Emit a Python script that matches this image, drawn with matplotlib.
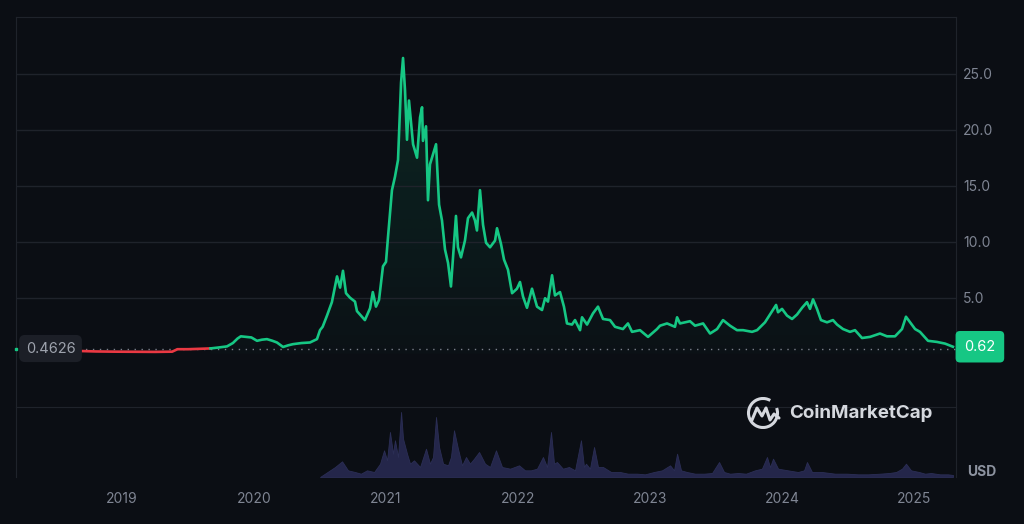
import numpy as np
import matplotlib
matplotlib.use("Agg")
import matplotlib.pyplot as plt
from matplotlib.patches import Arc

plt.rcParams['font.family'] = ['Inter', 'DejaVu Sans']

# price history (decimal year, USD)
dates = [2018.68, 2018.80, 2018.95, 2019.10, 2019.25, 2019.38, 2019.42, 2019.50, 2019.60, 2019.67,
         2019.73, 2019.795, 2019.84, 2019.875, 2019.90, 2019.94, 2019.98, 2020.023, 2020.06, 2020.098,
         2020.14, 2020.174, 2020.22, 2020.26, 2020.295, 2020.36, 2020.424, 2020.477, 2020.50, 2020.52,
         2020.553, 2020.59, 2020.629, 2020.652, 2020.674, 2020.697, 2020.727, 2020.765, 2020.78, 2020.84,
         2020.879, 2020.90, 2020.924, 2020.947, 2020.977, 2021.0, 2021.015, 2021.045, 2021.068, 2021.091,
         2021.114, 2021.129, 2021.144, 2021.159, 2021.174, 2021.205, 2021.235, 2021.258, 2021.273, 2021.28,
         2021.303, 2021.318, 2021.333, 2021.379, 2021.402, 2021.424, 2021.447, 2021.47, 2021.492, 2021.508,
         2021.53, 2021.545, 2021.568, 2021.598, 2021.621, 2021.652, 2021.674, 2021.689, 2021.712, 2021.735,
         2021.758, 2021.788, 2021.826, 2021.841, 2021.871, 2021.894, 2021.924, 2021.955, 2021.992, 2022.015,
         2022.038, 2022.068, 2022.106, 2022.144, 2022.182, 2022.205, 2022.227, 2022.258, 2022.28, 2022.318,
         2022.348, 2022.371, 2022.409, 2022.432, 2022.47, 2022.485, 2022.523, 2022.568, 2022.606, 2022.644,
         2022.697, 2022.735, 2022.795, 2022.833, 2022.864, 2022.924, 2022.985, 2023.053, 2023.076, 2023.129,
         2023.189, 2023.205, 2023.227, 2023.303, 2023.341, 2023.402, 2023.455, 2023.508, 2023.553, 2023.606,
         2023.659, 2023.705, 2023.773, 2023.811, 2023.871, 2023.909, 2023.955, 2023.97, 2024.0, 2024.038,
         2024.076, 2024.114, 2024.152, 2024.189, 2024.212, 2024.235, 2024.265, 2024.295, 2024.341, 2024.386,
         2024.417, 2024.462, 2024.515, 2024.553, 2024.606, 2024.667, 2024.742, 2024.795, 2024.856, 2024.909,
         2024.939, 2024.97, 2025.008, 2025.045, 2025.106, 2025.174, 2025.235, 2025.295]
prices = [0.24, 0.20, 0.18, 0.17, 0.16, 0.18, 0.40, 0.40, 0.44, 0.47,
          0.55, 0.65, 0.95, 1.35, 1.55, 1.50, 1.45, 1.15, 1.25, 1.30,
          1.15, 1.00, 0.60, 0.75, 0.85, 0.95, 1.00, 1.30, 2.10, 2.40,
          3.40, 4.60, 6.90, 5.90, 7.40, 5.40, 5.00, 4.65, 3.80, 3.00,
          4.05, 5.50, 4.20, 4.80, 7.80, 8.20, 10.4, 14.6, 15.8, 17.3,
          24.2, 26.4, 23.5, 19.1, 22.6, 18.7, 17.5, 21.1, 22.0, 19.0,
          20.3, 13.7, 16.9, 18.7, 13.3, 11.9, 9.3, 8.1, 6.0, 8.6,
          12.3, 9.5, 8.6, 10.1, 12.1, 12.6, 11.9, 11.0, 14.6, 11.5,
          9.9, 9.5, 10.1, 11.2, 9.8, 8.4, 7.5, 5.4, 5.8, 6.4,
          5.1, 4.1, 5.8, 4.2, 3.9, 4.95, 4.65, 7.0, 5.2, 5.5,
          4.2, 2.7, 2.6, 3.0, 2.1, 3.25, 2.6, 3.6, 4.2, 3.1,
          3.0, 2.4, 2.2, 2.7, 1.95, 2.1, 1.5, 2.2, 2.5, 2.7,
          2.4, 3.25, 2.7, 2.9, 2.5, 2.7, 1.8, 2.2, 3.0, 2.5,
          2.1, 2.1, 1.95, 2.1, 2.8, 3.5, 4.35, 3.7, 4.0, 3.4,
          3.1, 3.5, 4.1, 4.6, 4.0, 4.85, 4.0, 3.0, 2.8, 3.0,
          2.6, 2.2, 1.95, 2.1, 1.4, 1.5, 1.8, 1.55, 1.55, 2.2,
          3.3, 2.8, 2.2, 1.95, 1.15, 1.05, 0.9, 0.62]

# trading volume (relative)
vol_dates = [2020.50, 2020.538, 2020.614, 2020.667, 2020.712, 2020.765, 2020.81, 2020.856, 2020.91, 2020.955,
             2020.985, 2021.008, 2021.03, 2021.053, 2021.068, 2021.091, 2021.114, 2021.129, 2021.159, 2021.182,
             2021.212, 2021.258, 2021.303, 2021.333, 2021.356, 2021.379, 2021.402, 2021.432, 2021.47, 2021.492,
             2021.515, 2021.545, 2021.576, 2021.606, 2021.636, 2021.667, 2021.705, 2021.75, 2021.788, 2021.833,
             2021.879, 2021.94, 2022.008, 2022.053, 2022.098, 2022.144, 2022.189, 2022.22, 2022.25, 2022.273,
             2022.295, 2022.34, 2022.386, 2022.432, 2022.477, 2022.50, 2022.515, 2022.545, 2022.576, 2022.606,
             2022.644, 2022.705, 2022.773, 2022.833, 2022.902, 2022.962, 2023.03, 2023.091, 2023.152, 2023.182,
             2023.205, 2023.235, 2023.28, 2023.341, 2023.409, 2023.47, 2023.523, 2023.561, 2023.606, 2023.667,
             2023.727, 2023.795, 2023.848, 2023.886, 2023.909, 2023.932, 2023.97, 2024.045, 2024.121, 2024.167,
             2024.189, 2024.227, 2024.303, 2024.402, 2024.492, 2024.576, 2024.652, 2024.742, 2024.811, 2024.864,
             2024.909, 2024.939, 2024.977, 2025.038, 2025.083, 2025.129, 2025.197, 2025.258, 2025.295]
volumes = [0, 10, 30, 47, 20, 15, 10, 20, 15, 40,
           80, 50, 135, 70, 110, 60, 195, 115, 70, 40,
           50, 30, 85, 40, 60, 180, 90, 40, 35, 60,
           140, 85, 35, 60, 40, 55, 75, 40, 30, 80,
           30, 25, 35, 20, 20, 25, 60, 30, 135, 40,
           45, 25, 30, 20, 110, 30, 40, 25, 90, 30,
           30, 15, 15, 10, 10, 8, 15, 20, 35, 20,
           70, 20, 15, 10, 10, 12, 45, 15, 10, 12,
           10, 20, 25, 60, 30, 55, 25, 20, 15, 20,
           45, 15, 15, 10, 10, 8, 8, 10, 12, 15,
           25, 40, 20, 15, 10, 12, 8, 8, 6]

year_ticks = [2019, 2020, 2021, 2022, 2023, 2024, 2025]
price_ticks = [5, 10, 15, 20, 25]
base_price = 0.4626
last_price = 0.62

bg = '#0b0e14'
grid_c = '#1f232b'
text_c = '#7f8593'
green = '#16c784'
red = '#ea3943'

fig = plt.figure(figsize=(10.24, 5.24), dpi=100, facecolor=bg)
ax = fig.add_axes([16 / 1024, 1 - 407 / 524, 940 / 1024, 390 / 524], facecolor=bg)
axv = fig.add_axes([16 / 1024, 1 - 477 / 524, 940 / 1024, 70 / 524], facecolor='none')

x = np.array(dates)
y = np.array(prices)
split = int(np.argmax(y >= base_price))

# gradient fill under the green part
gx, gy = x[split:], y[split:]
poly = ax.fill_between(gx, gy, 0, color='none', lw=0)
grad = np.zeros((200, 2, 4))
rgb = matplotlib.colors.to_rgb(green)
grad[:, :, 0], grad[:, :, 1], grad[:, :, 2] = rgb
grad[:, :, 3] = np.linspace(0.02, 0.14, 200)[:, None]
im = ax.imshow(grad, extent=[gx[0], gx[-1], 0, gy.max()], origin='lower', aspect='auto', zorder=1)
im.set_clip_path(poly.get_paths()[0], transform=ax.transData)

ax.plot(x[:split + 1], y[:split + 1], color=red, lw=1.9, zorder=3, solid_joinstyle='round')
ax.plot(gx, gy, color=green, lw=1.9, zorder=3, solid_joinstyle='round')
ax.axhline(base_price, color='#7a7f8a', lw=1.0, ls=(0, (1, 4)), zorder=2)

ax.set_xlim(2018.197, 2025.318)
ax.set_ylim(-4.76, 30.06)
ax.set_yticks(price_ticks)
ax.set_yticklabels([f'{t:.1f}' for t in price_ticks])
ax.yaxis.tick_right()
ax.tick_params(axis='y', length=0, pad=5, labelsize=10, labelcolor=text_c)
ax.set_xticks([])
ax.grid(axis='y', color=grid_c, lw=1)
for s in ax.spines.values():
    s.set_color(grid_c)
ax.spines['bottom'].set_visible(False)

# price labels
ax.annotate(f'{last_price}', xy=(1, last_price), xycoords=('axes fraction', 'data'),
            xytext=(6, 0), textcoords='offset points', ha='left', va='center',
            fontsize=10.5, color='white', annotation_clip=False,
            bbox=dict(boxstyle='round,pad=0.6,rounding_size=0.3', fc=green, ec='none'))
ax.annotate(f'{base_price}', xy=(0, base_price), xycoords=('axes fraction', 'data'),
            xytext=(7, 0), textcoords='offset points', ha='left', va='center',
            fontsize=10.5, color='#9ea3ad', annotation_clip=False, zorder=5,
            bbox=dict(boxstyle='round,pad=0.45,rounding_size=0.4', fc='#1c1f27', ec='none'))
ax.plot([2018.197], [base_price], marker='s', ms=2, color=green, clip_on=False, zorder=5)

# volume panel
axv.fill_between(vol_dates, volumes, 0, color='#24264a', lw=0.6, edgecolor='#2b2e55')
axv.set_xlim(ax.get_xlim())
axv.set_ylim(0, 210)
axv.set_yticks([])
axv.set_xticks(year_ticks)
axv.set_xticklabels([str(t) for t in year_ticks])
axv.tick_params(axis='x', length=0, pad=11, labelsize=10, labelcolor=text_c)
for s in axv.spines.values():
    s.set_color(grid_c)
axv.spines['bottom'].set_visible(False)
axv.text(1.012, 0.07, 'USD', transform=axv.transAxes, ha='left', va='center',
         fontsize=10, fontweight='bold', color='#8d93a0')

# watermark
ov = fig.add_axes([0, 0, 1, 1], facecolor='none')
ov.set_xlim(0, 1024)
ov.set_ylim(524, 0)
ov.axis('off')
ov.add_patch(Arc((763, 413), 29, 29, theta1=-20, theta2=300, color='#d5d8de', lw=2.2))
ov.plot([752, 757, 762, 766, 770, 774, 779], [420, 408, 416, 408, 420, 414, 418],
        color='#d5d8de', lw=2.2, solid_joinstyle='round', solid_capstyle='round')
ov.text(789, 413, 'CoinMarketCap', ha='left', va='center', fontsize=13.5,
        fontweight='bold', color='#d5d8de')

fig.savefig('out.png', dpi=100, facecolor=bg)
